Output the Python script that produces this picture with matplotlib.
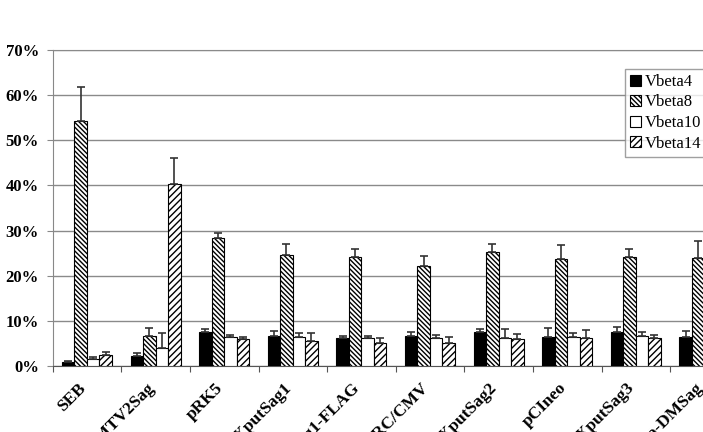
import numpy as np
import matplotlib
matplotlib.use('Agg')
import matplotlib.pyplot as plt
import matplotlib.transforms as mtransforms

# du lieu doc tu hinh (%)
nhom = ['SEB', 'MMTV2Sag', 'pRK5', 'pRK5-XputSag1', 'pRK5-XputSag1-FLAG',
        'pRC/CMV', 'pRC/CMV-XputSag2', 'pCIneo', 'pCIneo-XputSag3', 'pCIneo-DMSag']
vbeta4 = [0.8, 2.3, 7.6, 6.6, 6.3, 6.6, 7.5, 6.5, 7.5, 6.5]
vbeta4_err = [0.4, 0.5, 0.7, 1.1, 0.3, 0.9, 0.7, 2.0, 1.1, 1.3]
vbeta8 = [54.3, 6.7, 28.4, 24.6, 24.1, 22.2, 25.2, 23.8, 24.1, 24.0]
vbeta8_err = [7.4, 1.8, 1.1, 2.4, 1.9, 2.2, 1.8, 2.9, 1.9, 3.6]
vbeta10 = [1.5, 3.9, 6.4, 6.5, 6.1, 6.1, 6.1, 6.5, 6.6, 6.0]
vbeta10_err = [0.4, 3.5, 0.4, 0.9, 0.5, 0.8, 2.0, 0.9, 0.9, 0.8]
vbeta14 = [2.5, 40.3, 5.9, 5.6, 5.2, 5.2, 5.9, 6.1, 6.1, 5.8]
vbeta14_err = [0.6, 5.8, 0.5, 1.6, 0.9, 1.3, 1.2, 1.9, 0.8, 1.0]
ten = ['Vbeta4', 'Vbeta8', 'Vbeta10', 'Vbeta14']
yticks = [0, 10, 20, 30, 40, 50, 60, 70]

plt.rcParams['font.family'] = 'Liberation Serif'
plt.rcParams['hatch.linewidth'] = 1.0

w = 7.03
h = 4.32
fig = plt.figure(figsize=(w, h), dpi=100)
ax = fig.add_axes([52.7 / 703, 66 / 432, 686 / 703, 316 / 432])

x = np.arange(len(nhom))
rong = 0.182
bat_dau = 0.135
kieu = [dict(color='black', hatch=None),
        dict(color='white', hatch='\\' * 7),
        dict(color='white', hatch=None),
        dict(color='white', hatch='/' * 5)]
gia_tri = [vbeta4, vbeta8, vbeta10, vbeta14]
sai_so = [vbeta4_err, vbeta8_err, vbeta10_err, vbeta14_err]
for i in range(4):
    vi_tri = x + bat_dau + rong * (i + 0.5)
    ax.bar(vi_tri, gia_tri[i], width=rong, color=kieu[i]['color'],
           hatch=kieu[i]['hatch'], edgecolor='black', linewidth=0.8,
           label=ten[i], zorder=3)
    ax.errorbar(vi_tri, gia_tri[i],
                yerr=[np.zeros(len(nhom)), sai_so[i]],
                fmt='none', ecolor='#333333', elinewidth=1.2,
                capsize=3, capthick=1.2, zorder=4)

ax.set_xlim(0, 10)
ax.set_ylim(0, 70)
ax.set_yticks(yticks)
ax.set_yticklabels([str(v) + '%' for v in yticks], fontsize=12, fontweight='bold')
ax.yaxis.grid(True, color='#8a8a8a', linewidth=1.0, zorder=0)

ax.set_xticks(np.arange(0, 11))
ax.set_xticklabels([])
ax.set_xticks(x + 0.5, minor=True)
ax.set_xticklabels(nhom, minor=True, rotation=45, ha='right',
                   rotation_mode='anchor', fontsize=12.5, fontweight='bold')
ax.tick_params(axis='x', which='minor', length=0, pad=10)
ax.tick_params(axis='x', which='major', length=4, color='#555555')
ax.tick_params(axis='y', length=4, color='#888888', pad=6)

# dich nhan sang trai mot chut
dich = mtransforms.ScaledTranslation(-9 / 100, 0, fig.dpi_scale_trans)
for nhan in ax.get_xticklabels(minor=True):
    nhan.set_transform(nhan.get_transform() + dich)

for s in ['top', 'right']:
    ax.spines[s].set_color('#8a8a8a')
ax.spines['left'].set_color('#888888')
ax.spines['bottom'].set_color('#555555')

fig.legend(loc='upper left', bbox_to_anchor=(625 / 703, 1 - 69 / 432),
           fontsize=12, frameon=True, fancybox=False, edgecolor='#888888',
           handlelength=0.65, handleheight=0.65, handletextpad=0.25,
           borderpad=0.3, labelspacing=0.27, borderaxespad=0)

plt.savefig('out.png', dpi=100)
